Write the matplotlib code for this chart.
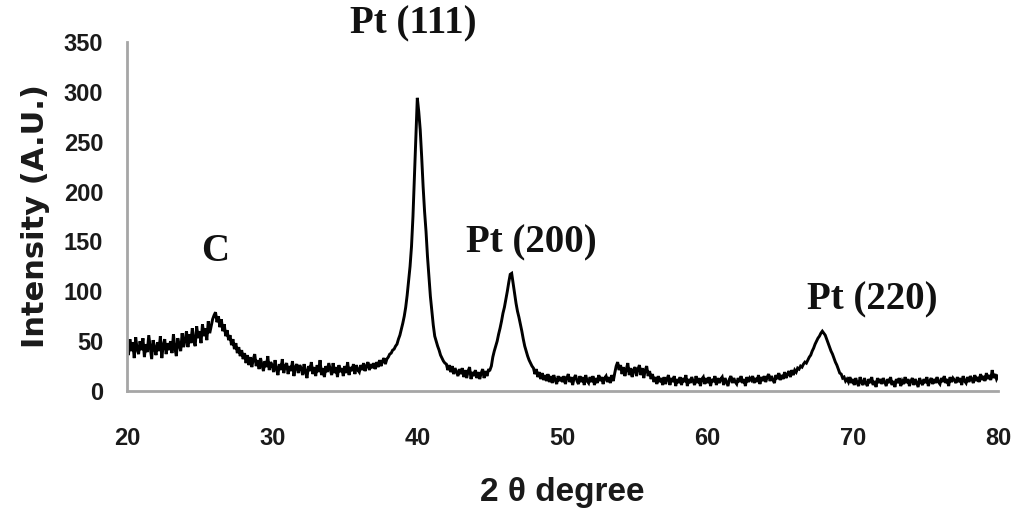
import numpy as np
import matplotlib
matplotlib.use("Agg")
import matplotlib.pyplot as plt

# 2-theta sampling grid (0.1 degree steps, 20 -> 80)
two_theta = np.round(np.arange(20.0, 80.0001, 0.1), 1)

# Intensity values, one row per degree
intensity = [
    45, 36, 52, 40, 49, 33, 54, 42, 37, 50,          # 20
    41, 53, 34, 47, 39, 56, 44, 32, 51, 43,          # 21
    36, 49, 40, 55, 33, 46, 52, 37, 48, 41,          # 22
    50, 38, 57, 43, 35, 53, 46, 40, 58, 44,          # 23
    51, 60, 44, 57, 48, 63, 50, 45, 65, 53,          # 24
    60, 48, 67, 55, 63, 51, 70, 58, 65, 72,          # 25
    76, 79, 69, 75, 64, 72, 60, 67, 55, 61,          # 26
    51, 56, 46, 52, 42, 48, 38, 44, 35, 41,          # 27
    32, 38, 28, 36, 26, 34, 24, 32, 37, 25,          # 28
    31, 22, 33, 26, 20, 30, 24, 35, 21, 29,          # 29
    26, 19, 31, 22, 16, 27, 21, 32, 18, 25,          # 30
    28, 17, 25, 20, 30, 15, 24, 27, 18, 26,          # 31
    23, 16, 27, 19, 13, 25, 20, 29, 17, 24,          # 32
    15, 26, 19, 31, 16, 23, 14, 25, 19, 28,          # 33
    22, 16, 28, 18, 24, 14, 26, 19, 23, 15,          # 34
    25, 18, 29, 16, 24, 20, 27, 17, 26, 21,          # 35
    19, 26, 21, 28, 20, 25, 29, 21, 27, 23,          # 36
    28, 22, 29, 24, 31, 25, 30, 33, 27, 32,          # 37
    34, 37, 38, 41, 42, 45, 47, 52, 56, 62,          # 38
    68, 75, 84, 96, 110, 125, 145, 175, 215, 255,    # 39
    294, 280, 262, 235, 205, 180, 160, 135, 115, 95, # 40
    80, 66, 55, 50, 45, 41, 36, 33, 30, 28,          # 41
    27, 21, 26, 19, 25, 17, 23, 19, 15, 22,          # 42
    17, 23, 14, 21, 13, 20, 24, 12, 19, 15,          # 43
    21, 13, 19, 12, 18, 22, 13, 20, 15, 21,          # 44
    21, 25, 34, 40, 45, 50, 57, 63, 70, 78,          # 45
    84, 92, 100, 109, 117, 118, 108, 98, 88, 80,     # 46
    74, 67, 60, 52, 45, 40, 35, 31, 28, 25,          # 47
    23, 17, 22, 14, 19, 12, 18, 11, 16, 10,          # 48
    17, 9, 15, 8, 16, 11, 7, 15, 10, 14,             # 49
    9, 15, 7, 13, 17, 9, 14, 6, 13, 16,              # 50
    10, 7, 15, 9, 14, 6, 16, 10, 8, 14,              # 51
    9, 15, 6, 13, 8, 16, 10, 14, 7, 13,              # 52
    15, 9, 14, 8, 16, 10, 18, 25, 29, 21,            # 53
    26, 17, 24, 15, 22, 28, 16, 23, 14, 21,          # 54
    24, 15, 22, 26, 16, 23, 13, 21, 25, 15,          # 55
    20, 12, 17, 9, 14, 7, 15, 9, 13, 6,              # 56
    14, 7, 12, 16, 6, 13, 9, 15, 5, 12,              # 57
    8, 14, 6, 13, 9, 16, 5, 12, 8, 14,               # 58
    10, 6, 15, 8, 13, 5, 12, 14, 7, 13,              # 59
    8, 14, 5, 12, 9, 15, 6, 13, 8, 12,               # 60
    14, 6, 13, 9, 5, 12, 15, 8, 13, 9,               # 61
    7, 13, 9, 15, 8, 12, 5, 14, 9, 13,               # 62
    11, 15, 8, 13, 9, 16, 7, 14, 10, 15,             # 63
    9, 14, 17, 10, 15, 11, 8, 16, 12, 18,            # 64
    11, 16, 12, 19, 13, 17, 20, 14, 21, 16,          # 65
    21, 19, 23, 22, 25, 24, 27, 29, 28, 31,          # 66
    34, 36, 40, 43, 47, 50, 53, 55, 58, 60,          # 67
    58, 56, 52, 48, 44, 40, 37, 33, 29, 26,          # 68
    22, 18, 17, 13, 14, 10, 12, 9, 14, 8,            # 69
    12, 6, 13, 8, 5, 14, 9, 6, 13, 8,                # 70
    5, 12, 8, 14, 6, 10, 4, 13, 8, 12,               # 71
    7, 13, 9, 5, 12, 8, 14, 6, 10, 4,                # 72
    12, 8, 13, 5, 10, 7, 14, 8, 12, 5,               # 73
    10, 13, 6, 12, 8, 4, 13, 9, 6, 12,               # 74
    8, 14, 5, 10, 13, 7, 12, 8, 14, 9,               # 75
    7, 13, 9, 15, 8, 12, 5, 14, 9, 13,               # 76
    11, 8, 14, 9, 13, 6, 15, 10, 8, 14,              # 77
    9, 15, 12, 8, 16, 10, 14, 9, 17, 11,             # 78
    15, 10, 18, 12, 16, 11, 21, 13, 17, 12,          # 79
    15,                                              # 80
]

x_ticks = [20, 30, 40, 50, 60, 70, 80]
y_ticks = [0, 50, 100, 150, 200, 250, 300, 350]

peak_labels = ["C", "Pt (111)", "Pt (200)", "Pt (220)"]
peak_label_x = [26.06, 39.70, 47.83, 71.32]
peak_label_y = [140, 368, 149, 91]

fig = plt.figure(figsize=(10.24, 5.16), dpi=100)
ax = fig.add_axes([0.1240, 0.2422, 0.8506, 0.6764])

ax.plot(two_theta, intensity, color="black", linewidth=2.1, solid_joinstyle="miter")

ax.set_xlim(20, 80)
ax.set_ylim(0, 350)
ax.set_xticks(x_ticks)
ax.set_yticks(y_ticks)

tick_font = dict(family=["Liberation Sans Narrow", "Liberation Sans", "DejaVu Sans"],
                 weight="bold", size=17)
ax.set_xticklabels([str(t) for t in x_ticks], fontdict=tick_font, color="#1a1a1a")
ax.set_yticklabels([str(t) for t in y_ticks], fontdict=tick_font, color="#1a1a1a")
ax.tick_params(axis="both", length=0)
ax.tick_params(axis="x", pad=26)
ax.tick_params(axis="y", pad=17)

for s in ["top", "right"]:
    ax.spines[s].set_visible(False)
for s in ["left", "bottom"]:
    ax.spines[s].set_color("#a6a6a6")
    ax.spines[s].set_linewidth(2.0)

ax.set_ylabel("Intensity (A.U.)", family=["DejaVu Sans"], weight="bold", size=22,
              color="#1a1a1a", labelpad=10)
ax.set_xlabel("2 θ degree", family=["Liberation Sans", "DejaVu Sans"], weight="bold",
              size=24, color="#1a1a1a", labelpad=19)

for txt, xx, yy in zip(peak_labels, peak_label_x, peak_label_y):
    ax.text(xx, yy, txt, ha="center", va="center",
            family=["Liberation Serif", "DejaVu Serif"], weight="bold", size=28,
            color="#111111", clip_on=False)

fig.savefig("out.png", dpi=100)
